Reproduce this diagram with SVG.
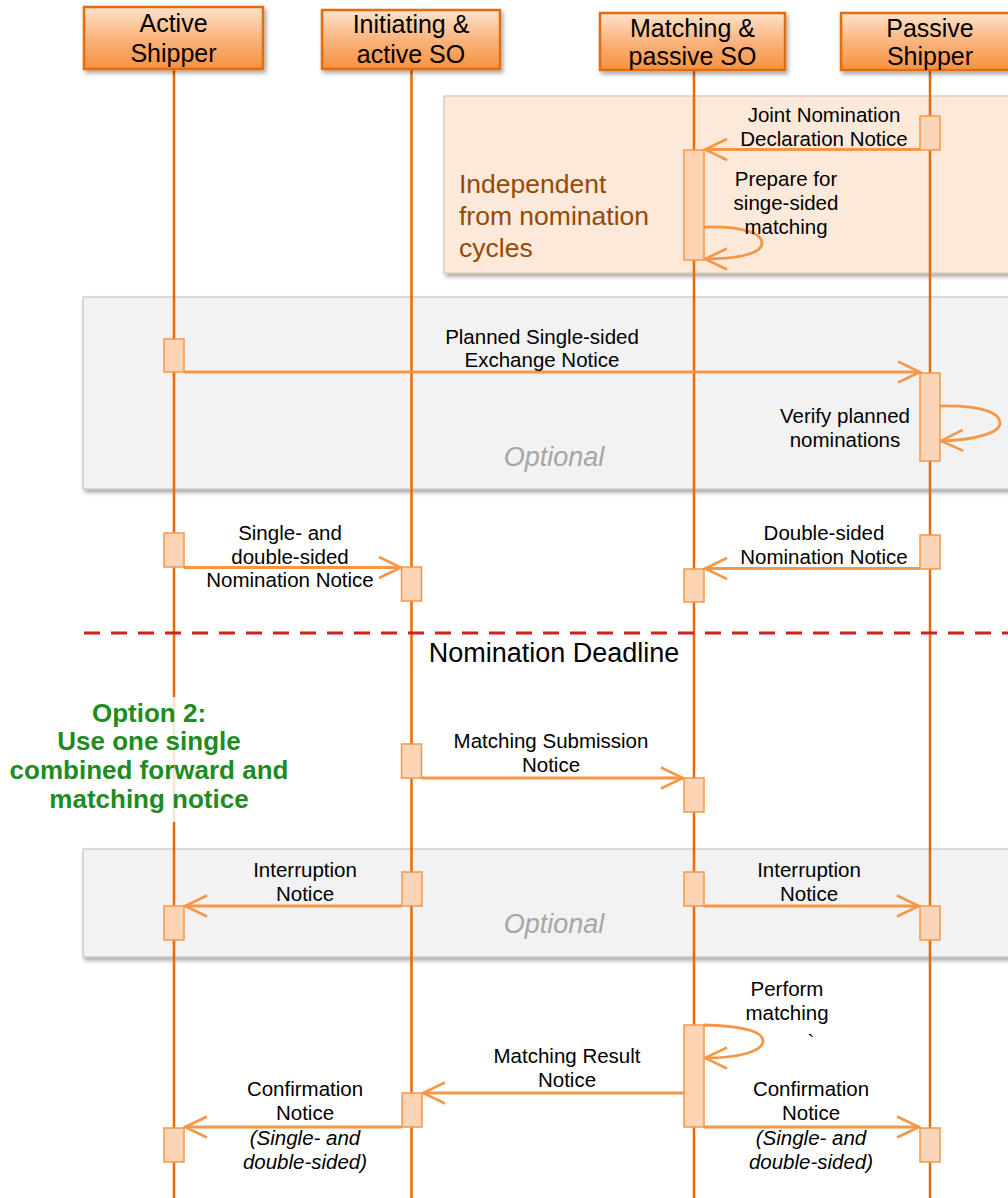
<svg xmlns="http://www.w3.org/2000/svg" width="1008" height="1198" viewBox="0 0 1008 1198">
<defs>
<linearGradient id="hdr" x1="0" y1="0" x2="0" y2="1">
<stop offset="0" stop-color="#FDE3CB"/>
<stop offset="0.5" stop-color="#FAB47E"/>
<stop offset="1" stop-color="#F7913F"/>
</linearGradient>
<filter id="sh" x="-10%" y="-20%" width="130%" height="150%">
<feDropShadow dx="2" dy="3" stdDeviation="2" flood-color="#000" flood-opacity="0.35"/>
</filter>
<filter id="shg" x="-10%" y="-100%" width="130%" height="400%">
<feDropShadow dx="1" dy="2" stdDeviation="1" flood-color="#000" flood-opacity="0.35"/>
</filter>
<marker id="ah" viewBox="-25 -13 27 26" markerWidth="27" markerHeight="26" refX="0" refY="0" orient="auto" markerUnits="userSpaceOnUse" overflow="visible">
<path d="M-22,-10.5 L0,0 L-22,10.5" fill="none" stroke="#F79646" stroke-width="2.5"/>
</marker>
<marker id="gah" viewBox="0 0 8 8" markerWidth="8" markerHeight="8" refX="7" refY="4" orient="auto" markerUnits="userSpaceOnUse">
<path d="M0,0.5 L8,4 L0,7.5 Z" fill="#1E7B1E"/>
</marker>
</defs>
<style>
.hbox{fill:url(#hdr);stroke:#E46C0A;stroke-width:2.5}
.htxt{font-family:"Liberation Sans",Arial,sans-serif;font-size:25px;fill:#000;text-anchor:middle}
.life{stroke:#E46C0A;stroke-width:2.5;fill:none}
.msg{stroke:#F79646;stroke-width:2.8;fill:none;marker-end:url(#ah)}
.act{fill:#FBD5B5;stroke:#F79646;stroke-width:1.5}
.lbl{font-family:"Liberation Sans",Arial,sans-serif;font-size:20.5px;fill:#000;text-anchor:middle}
.it{font-style:italic}
.opt{font-family:"Liberation Sans",Arial,sans-serif;font-size:27px;font-style:italic;fill:#A6A6A6;text-anchor:middle}
.grp{fill:#F2F2F2;stroke:#C4C4C4;stroke-width:1.2}
.green{font-family:"Liberation Sans",Arial,sans-serif;font-size:26px;font-weight:bold;fill:#1E8C22;text-anchor:middle}
</style>

<g id="frames">
<g id="independent-frame">
<rect x="444" y="96" width="580" height="177" fill="#FDE9D9" stroke="#D6C7AE" stroke-width="1.2" filter="url(#sh)"/>
<text font-family="Liberation Sans,Arial,sans-serif" font-size="26.5" fill="#974806"><tspan x="459" y="193">Independent</tspan><tspan x="459" y="225">from nomination</tspan><tspan x="459" y="257">cycles</tspan></text>
</g>
<g id="optional-frame-1">
<rect x="83" y="297" width="940" height="192" class="grp" filter="url(#sh)"/>
<text class="opt" x="554" y="466">Optional</text>
</g>
<g id="optional-frame-2">
<rect x="83" y="849" width="940" height="108" class="grp" filter="url(#sh)"/>
<text class="opt" x="554" y="933">Optional</text>
</g>
</g>

<g id="lifelines">
<line class="life" x1="174" y1="69" x2="174" y2="1198"/>
<line class="life" x1="411.5" y1="69" x2="411.5" y2="1198"/>
<line class="life" x1="694" y1="70" x2="694" y2="1198"/>
<line class="life" x1="930" y1="70" x2="930" y2="1198"/>
</g>

<g id="deadline">
<line x1="84" y1="633" x2="1008" y2="633" stroke="#D02020" stroke-width="3" stroke-dasharray="16 11"/>
<text x="554" y="662" font-family="Liberation Sans,Arial,sans-serif" font-size="27" fill="#000" text-anchor="middle">Nomination Deadline</text>
</g>

<g id="connectors">
<line class="msg" x1="920" y1="149.5" x2="705" y2="149.5"/>
<path class="msg" d="M704,227 C745,226 762,234 762,243 C762,253 740,259 705,259"/>
<line class="msg" x1="184" y1="372" x2="920" y2="372"/>
<path class="msg" d="M940,406 C985,405 1000,414 1000,423 C1000,433 975,440 941,441"/>
<line class="msg" x1="184" y1="567.5" x2="401" y2="567.5"/>
<line class="msg" x1="920" y1="568.5" x2="705" y2="568.5"/>
<line class="msg" x1="421.5" y1="778" x2="683" y2="778"/>
<line class="msg" x1="402" y1="906" x2="185" y2="906"/>
<line class="msg" x1="704" y1="906" x2="919" y2="906"/>
<path class="msg" d="M704,1025 C745,1026 763,1032 763,1041 C763,1051 740,1058 705,1058"/>
<line class="msg" x1="684" y1="1093" x2="423" y2="1093"/>
<line class="msg" x1="402" y1="1127" x2="185" y2="1127"/>
<line class="msg" x1="704" y1="1127" x2="919" y2="1127"/>
</g>

<g id="activations">
<rect class="act" x="920" y="116" width="20" height="34"/>
<rect class="act" x="684" y="150" width="20" height="110"/>
<rect class="act" x="164" y="339" width="20" height="33"/>
<rect class="act" x="920" y="373" width="20" height="88"/>
<rect class="act" x="164" y="533" width="20" height="34"/>
<rect class="act" x="401.5" y="567" width="20" height="34"/>
<rect class="act" x="920" y="535" width="20" height="34"/>
<rect class="act" x="684" y="569" width="20" height="33"/>
<rect class="act" x="401.5" y="744" width="20" height="34"/>
<rect class="act" x="684" y="778" width="20" height="34"/>
<rect class="act" x="402" y="872" width="20" height="34"/>
<rect class="act" x="164" y="906" width="20" height="34"/>
<rect class="act" x="684" y="872" width="20" height="34"/>
<rect class="act" x="920" y="906" width="20" height="34"/>
<rect class="act" x="684" y="1025" width="20" height="102"/>
<rect class="act" x="402" y="1093" width="20" height="34"/>
<rect class="act" x="164" y="1128" width="20" height="34"/>
<rect class="act" x="920" y="1128" width="20" height="34"/>
</g>

<g id="labels">
<text class="lbl"><tspan x="824" y="122">Joint Nomination</tspan><tspan x="824" y="146">Declaration Notice</tspan></text>
<text class="lbl"><tspan x="786" y="186">Prepare for</tspan><tspan x="786" y="210">singe-sided</tspan><tspan x="786" y="234">matching</tspan></text>
<text class="lbl"><tspan x="542" y="344">Planned Single-sided</tspan><tspan x="542" y="367">Exchange Notice</tspan></text>
<text class="lbl"><tspan x="845" y="423">Verify planned</tspan><tspan x="845" y="447">nominations</tspan></text>
<text class="lbl"><tspan x="290" y="540">Single- and</tspan><tspan x="290" y="564">double-sided</tspan><tspan x="290" y="587">Nomination Notice</tspan></text>
<text class="lbl"><tspan x="824" y="540">Double-sided</tspan><tspan x="824" y="564">Nomination Notice</tspan></text>
<text class="lbl"><tspan x="551" y="748">Matching Submission</tspan><tspan x="551" y="772">Notice</tspan></text>
<text class="lbl"><tspan x="305" y="877">Interruption</tspan><tspan x="305" y="901">Notice</tspan></text>
<text class="lbl"><tspan x="809" y="877">Interruption</tspan><tspan x="809" y="901">Notice</tspan></text>
<text class="lbl"><tspan x="787" y="996">Perform</tspan><tspan x="787" y="1020">matching</tspan></text>
<text class="lbl" x="811" y="1049">`</text>
<text class="lbl"><tspan x="567" y="1063">Matching Result</tspan><tspan x="567" y="1087">Notice</tspan></text>
<text class="lbl"><tspan x="305" y="1096">Confirmation</tspan><tspan x="305" y="1120">Notice</tspan><tspan class="it" x="305" y="1145">(Single- and</tspan><tspan class="it" x="305" y="1169">double-sided)</tspan></text>
<text class="lbl"><tspan x="811" y="1096">Confirmation</tspan><tspan x="811" y="1120">Notice</tspan><tspan class="it" x="811" y="1145">(Single- and</tspan><tspan class="it" x="811" y="1169">double-sided)</tspan></text>
</g>

<g id="option2-note">
<rect x="2" y="697" width="294" height="125" fill="#FFFFFF" fill-opacity="0.82"/>
<text class="green"><tspan x="149" y="722">Option 2:</tspan><tspan x="149" y="750">Use one single</tspan><tspan x="149" y="779">combined forward and</tspan><tspan x="149" y="808">matching notice</tspan></text>
<line x1="297" y1="763" x2="389" y2="763" stroke="#1E7B1E" stroke-width="2" marker-end="url(#gah)" filter="url(#shg)"/>
</g>

<g id="participants">
<g id="active-shipper">
<rect class="hbox" x="84" y="7" width="179" height="62" filter="url(#sh)"/>
<text class="htxt"><tspan x="173.5" y="32">Active</tspan><tspan x="173.5" y="62">Shipper</tspan></text>
</g>
<g id="initiating-so">
<rect class="hbox" x="322" y="10" width="178" height="59" filter="url(#sh)"/>
<text class="htxt"><tspan x="411" y="33">Initiating &amp;</tspan><tspan x="411" y="63">active SO</tspan></text>
</g>
<g id="matching-so">
<rect class="hbox" x="600" y="13" width="185" height="57" filter="url(#sh)"/>
<text class="htxt"><tspan x="692.5" y="37">Matching &amp;</tspan><tspan x="692.5" y="65">passive SO</tspan></text>
</g>
<g id="passive-shipper">
<rect class="hbox" x="841" y="13" width="178" height="57" filter="url(#sh)"/>
<text class="htxt"><tspan x="930" y="37">Passive</tspan><tspan x="930" y="65">Shipper</tspan></text>
</g>
</g>
</svg>
